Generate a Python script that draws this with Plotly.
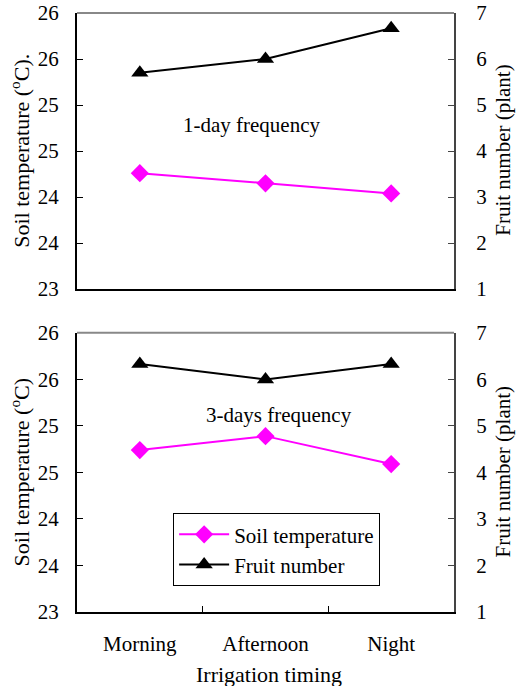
import plotly.graph_objects as go

categories = ["Morning", "Afternoon", "Night"]
soil_1day = [24.26, 24.15, 24.04]
fruit_1day = [5.7, 6.0, 6.67]
soil_3day = [24.74, 24.89, 24.59]
fruit_3day = [6.33, 6.0, 6.33]

soil_tickvals = [23, 23.5, 24, 24.5, 25, 25.5, 26]
soil_ticktext = ["23", "24", "24", "25", "25", "26", "26"]
fruit_tickvals = [1, 2, 3, 4, 5, 6, 7]

FONT = "Liberation Serif, Times New Roman, serif"
MAG = "#FF00FF"

fig = go.Figure()

soil_marker = dict(symbol="diamond", size=14, color=MAG)
fruit_marker = dict(symbol="triangle-up", size=15, color="black")

fig.add_trace(go.Scatter(x=categories, y=soil_1day, xaxis="x", yaxis="y",
                         mode="lines+markers", line=dict(color=MAG, width=2),
                         marker=soil_marker, showlegend=False, name="Soil temperature"))
fig.add_trace(go.Scatter(x=categories, y=fruit_1day, xaxis="x", yaxis="y2",
                         mode="lines+markers", line=dict(color="black", width=2),
                         marker=fruit_marker, showlegend=False, name="Fruit number"))
fig.add_trace(go.Scatter(x=categories, y=soil_3day, xaxis="x2", yaxis="y3",
                         mode="lines+markers", line=dict(color=MAG, width=2),
                         marker=soil_marker, name="Soil temperature"))
fig.add_trace(go.Scatter(x=categories, y=fruit_3day, xaxis="x2", yaxis="y4",
                         mode="lines+markers", line=dict(color="black", width=2),
                         marker=fruit_marker, name="Fruit number"))

top_dom = [0.539, 1.0]
bot_dom = [0.0, 0.466]

tickfont = dict(family=FONT, size=21, color="black")

def xaxis(anchor, labels):
    return dict(domain=[0, 1], anchor=anchor, type="category",
                categoryorder="array", categoryarray=categories,
                range=[-0.5, 2.5], showline=True, linecolor="black", linewidth=2,
                showgrid=False, zeroline=False, automargin=False,
                ticks="inside" if labels else "", tickson="boundaries",
                ticklen=6, tickcolor="black", tickwidth=1,
                showticklabels=labels, tickfont=tickfont, ticklabelstandoff=12)

def yleft(dom, anchor):
    return dict(domain=dom, anchor=anchor, range=[23, 26], automargin=False,
                tickvals=soil_tickvals, ticktext=soil_ticktext,
                showline=True, linecolor="black", linewidth=2, showgrid=False,
                zeroline=False, ticks="inside", ticklen=6, tickcolor="black",
                tickfont=tickfont, ticklabelstandoff=12)

def yright(over, anchor):
    return dict(overlaying=over, anchor=anchor, side="right", range=[1, 7],
                automargin=False,
                tickvals=fruit_tickvals, showline=True, linecolor="#444",
                linewidth=2, showgrid=False, zeroline=False, ticks="inside",
                ticklen=6, tickcolor="#444", tickfont=tickfont, ticklabelstandoff=16)

fig.update_layout(
    width=516, height=686,
    margin=dict(l=77, r=62, t=13, b=74, autoexpand=False),
    paper_bgcolor="white", plot_bgcolor="white",
    font=dict(family=FONT, size=21, color="black"),
    xaxis=xaxis("y", False),
    yaxis=yleft(top_dom, "x"),
    yaxis2=yright("y", "x"),
    xaxis2=xaxis("y3", True),
    yaxis3=yleft(bot_dom, "x2"),
    yaxis4=yright("y3", "x2"),
    legend=dict(x=0.255, y=0.165, xanchor="left", yanchor="top",
                bordercolor="black", borderwidth=1, bgcolor="white",
                font=dict(family=FONT, size=21, color="black"),
                itemwidth=50, tracegroupgap=0),
    showlegend=True,
)

# gray top borders
for y in [1.0, 0.466]:
    fig.add_shape(type="line", xref="paper", yref="paper", x0=0, x1=1, y0=y, y1=y,
                  line=dict(color="#888", width=2))

ann = [
    dict(text="1-day frequency", x=(252 - 77) / 377, y=0.813, size=21),
    dict(text="3-days frequency", x=(279 - 77) / 377, y=0.329, size=21),
    dict(text="Irrigation timing", x=(269 - 77) / 377, y=-0.104, size=22),
    dict(text="Soil temperature (<sup>o</sup>C).", x=(20 - 77) / 377, y=0.77, textangle=-90, size=22),
    dict(text="Soil temperature (<sup>o</sup>C)", x=(20 - 77) / 377, y=0.233, textangle=-90, size=22),
    dict(text="Fruit number (plant)", x=(503 - 77) / 377, y=0.77, textangle=-90, size=21),
    dict(text="Fruit number (plant)", x=(503 - 77) / 377, y=0.233, textangle=-90, size=21),
]
for a in ann:
    sz = a.pop("size")
    fig.add_annotation(xref="paper", yref="paper", showarrow=False,
                       xanchor="center", yanchor="middle",
                       font=dict(family=FONT, size=sz, color="black"), **a)

fig.write_html(
    "out.html",
    config={"displayModeBar": False},
    post_script="document.body.style.margin='0';document.body.style.padding='0';"
                "document.documentElement.style.margin='0';",
)
